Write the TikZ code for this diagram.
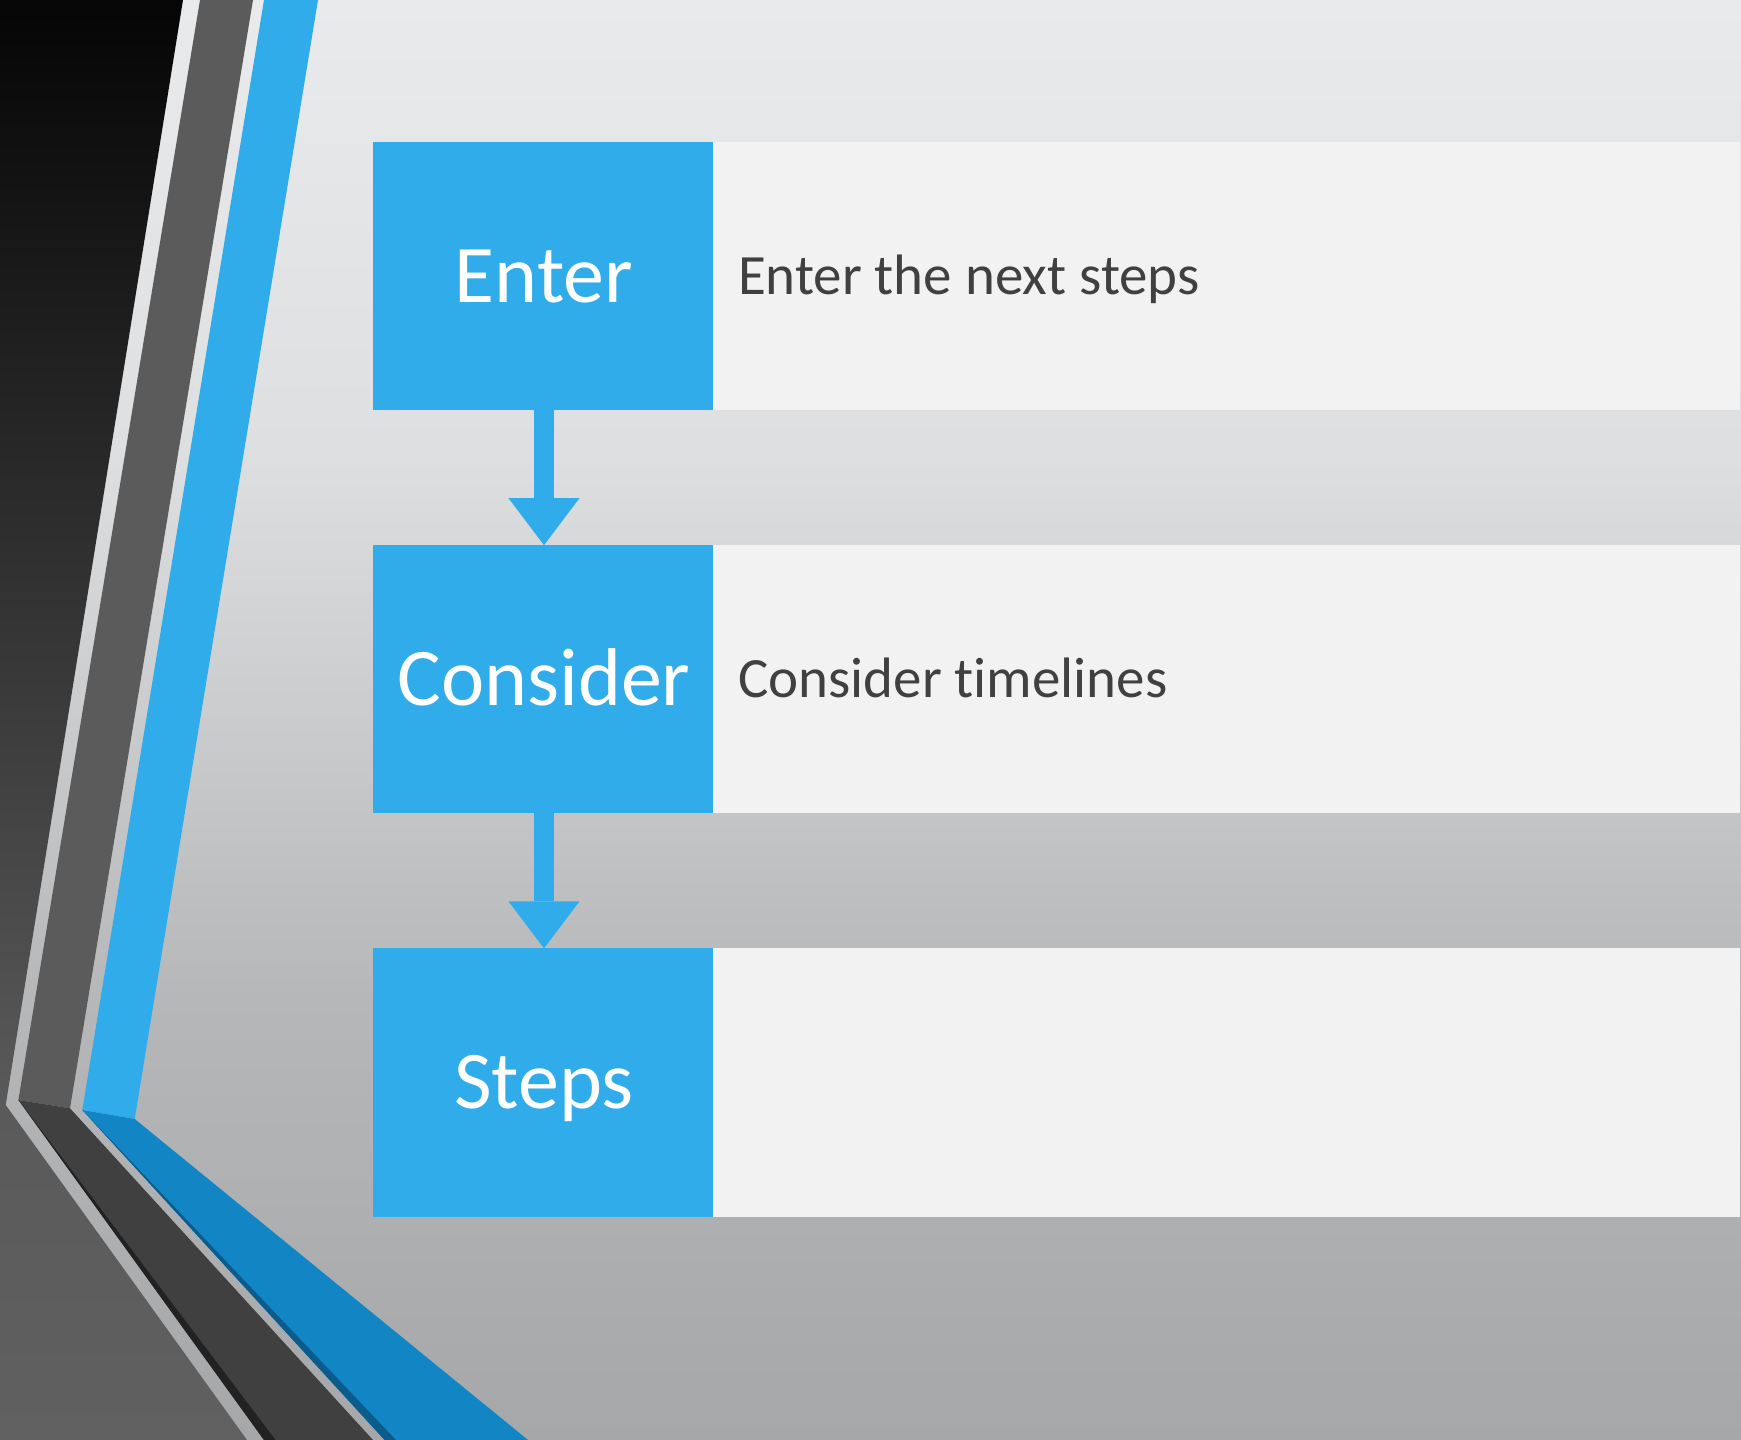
\documentclass[tikz,border=0pt]{standalone}
\usepackage{fontspec}
\setmainfont{Carlito}[Ligatures=NoCommon]
\usepackage{tikz}
\usetikzlibrary{arrows.meta}
\definecolor{stepblue}{HTML}{31ACEA}
\definecolor{darkblue}{HTML}{1286C4}
\definecolor{deepblue}{HTML}{0B5C8C}
\definecolor{notegrey}{HTML}{F2F2F2}
\definecolor{notetext}{HTML}{404040}
\definecolor{bandgrey}{HTML}{5B5B5B}
\definecolor{bandlow}{HTML}{404040}
\definecolor{bandedge}{HTML}{222222}
\definecolor{bgtop}{HTML}{E9EAEC}
\definecolor{bgmid}{HTML}{DEDFE0}
\definecolor{bglow}{HTML}{B5B7B9}
\definecolor{bgbottom}{HTML}{A5A7A8}
\definecolor{sidetop}{HTML}{050505}
\definecolor{sidemid}{HTML}{5A5A5A}
\definecolor{sidebottom}{HTML}{606060}
\pgfdeclareverticalshading{slidebg}{100bp}{color(0bp)=(bgbottom); color(25bp)=(bgbottom);
    color(40.3bp)=(bglow); color(59.4bp)=(bgmid); color(75bp)=(bgtop); color(100bp)=(bgtop)}
\pgfdeclareverticalshading{sidebg}{100bp}{color(0bp)=(sidebottom); color(25bp)=(sidebottom);
    color(36.6bp)=(sidemid); color(75bp)=(sidetop); color(100bp)=(sidetop)}
\newcommand{\notespacing}{\spaceskip=0pt \xspaceskip=0pt }
\tikzstyle{stepbox} = [rectangle, minimum width=3.41cm, minimum height=2.68cm,
    inner sep=0pt, outer sep=0pt, fill=stepblue, text=white,
    font=\fontsize{23.3}{28}\selectfont, text height=0.52cm, text depth=0pt]
\tikzstyle{notebox} = [rectangle, minimum width=10.26cm, minimum height=2.68cm,
    inner xsep=0.25cm, inner ysep=0pt, outer sep=0pt, text width=9.76cm, align=left,
    fill=notegrey, text=notetext, font=\fontsize{16.2}{20}\selectfont,
    execute at begin node=\notespacing, text height=0.37cm, text depth=0pt]
\tikzstyle{arrow} = [line width=0.2cm, draw=stepblue,
    -{Triangle[width=0.71cm, length=0.47cm, line width=0pt]}]
\begin{document}
\begin{tikzpicture}[x=0.01cm, y=-0.01cm]
                \useasboundingbox (0,0) rectangle (1741,1440);
                \shade[shading=slidebg] (0,0) rectangle (1741,1440);

                \shade[shading=sidebg] (0,0) -- (183,0) -- (5.7,1105) -- (247,1440) -- (0,1440) -- cycle;
                \fill[bandgrey] (200,0) -- (253,0) -- (70,1108.3) -- (18.4,1100) -- cycle;
                \fill[bandlow] (18.4,1100) -- (70,1108.3) -- (373,1440) -- (264,1440) -- cycle;
                \fill[bandedge] (18.4,1100) -- (264,1440) -- (275.5,1440) -- cycle;
                \fill[stepblue] (264,0) -- (318,0) -- (134.7,1119) -- (82.3,1110) -- cycle;
                \fill[darkblue] (82.3,1110) -- (134.7,1119) -- (528,1440) -- (384.6,1440) -- cycle;
                \fill[deepblue] (82.3,1110) -- (384.6,1440) -- (396,1440) -- cycle;

                \node (enter) [stepbox] at (544,276) {Enter};
                \node (consider) [stepbox, below of=enter, yshift=-3.03cm] {Consider};
                \node (steps) [stepbox, below of=consider, yshift=-3.03cm] {Steps};
                \node (enternote) [notebox, right of=enter, xshift=5.82cm] {Enter the next steps};
                \node (considernote) [notebox, right of=consider, xshift=5.82cm] {Consider timelines};
                \node (stepsnote) [notebox, right of=steps, xshift=5.82cm] {};

                \draw [arrow] (enter) -- (consider);
                \draw [arrow] (consider) -- (steps);
            \end{tikzpicture}
\end{document}
